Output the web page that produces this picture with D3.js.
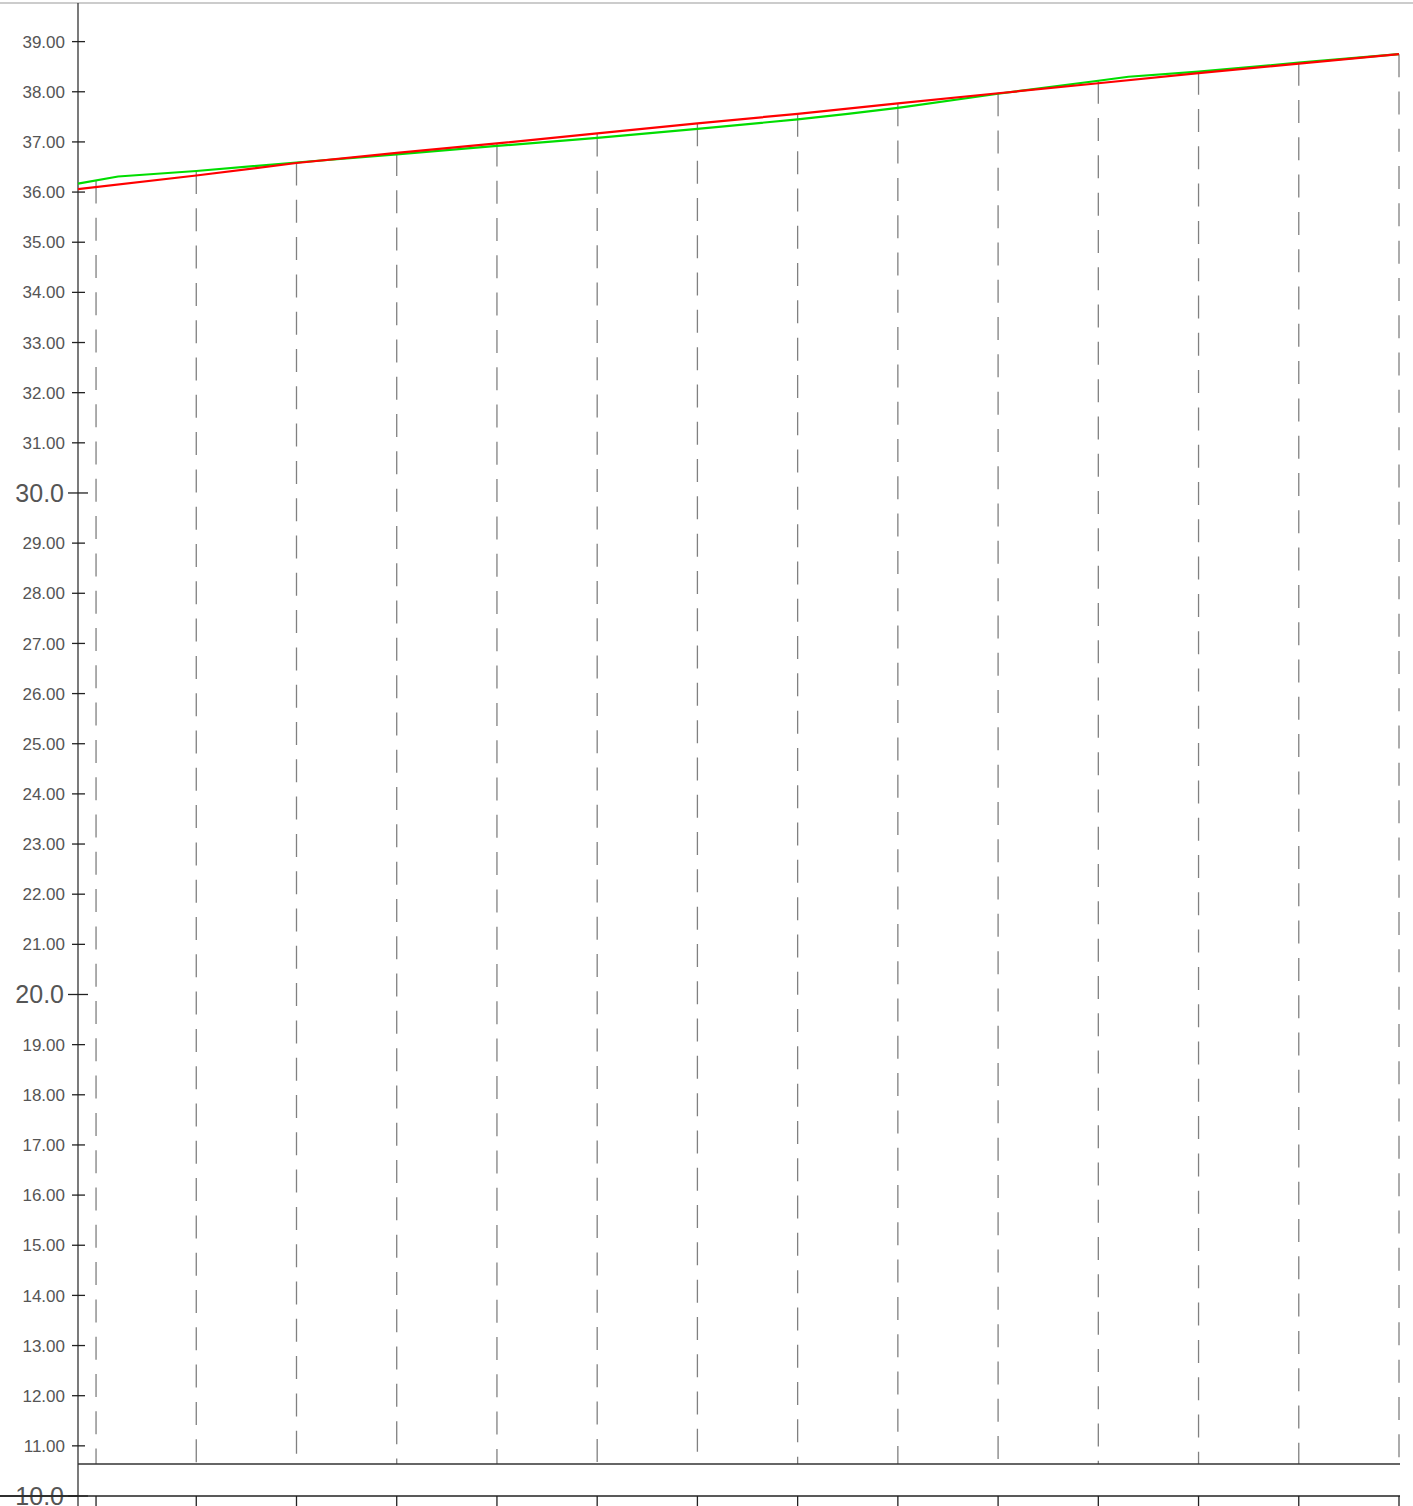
<!DOCTYPE html>
<html>
<head>
<meta charset="utf-8">
<script src="https://cdn.jsdelivr.net/npm/d3@7"></script>
<style>
	html, body { margin: 0; padding: 0; background: #fff; }
	svg { display: block; }
</style>
</head>
<body>
<div id="chart"></div>
<script>
/* values */
const dropX = [1, 2, 3, 4, 5, 6, 7, 8, 9, 10, 11, 12, 13, 14];

const greenX = [0.82, 1.22, 2, 3, 4, 5, 6, 7, 8, 8.5, 9, 10, 11, 11.3, 12, 13, 14];
const greenY = [36.17, 36.31, 36.42, 36.59, 36.75, 36.92, 37.08, 37.26, 37.45, 37.56, 37.68, 37.96, 38.22, 38.30, 38.40, 38.58, 38.75];

const redX = [0.82, 2, 3, 4, 5, 6, 7, 8, 9, 10, 11, 12, 13, 14];
const redY = [36.06, 36.33, 36.58, 36.78, 36.97, 37.17, 37.37, 37.56, 37.77, 37.97, 38.17, 38.37, 38.56, 38.75];

const majorTicks = [10, 20, 30];
const minorTicks = d3.range(11, 40).filter((v) => v % 10 !== 0);

const width = 1413;
const height = 1506;

const svg = d3.select("#chart")
	.append("svg")
	.attr("width", width)
	.attr("height", height);

/* scales */
const x = d3.scaleLinear().domain([0.82, 14]).range([78, 1399]);
const y = d3.scaleLinear().domain([10, 39.77]).range([1496, 3]);

const plotBottom = 1464;
const plotRight = 1400;

/* linear lookup on a polyline, used for the tops of the drop lines */
function valueAt(xs, ys, v) {
	const i = Math.max(1, Math.min(xs.length - 1, d3.bisectLeft(xs, v)));
	const t = (v - xs[i - 1]) / (xs[i] - xs[i - 1]);
	return ys[i - 1] + t * (ys[i] - ys[i - 1]);
}

/* top border */
svg.append("line")
	.attr("x1", 0).attr("x2", width)
	.attr("y1", 3).attr("y2", 3)
	.style("stroke", "#ccc")
	.style("stroke-width", 2);

/* dashed drop lines */
svg.append("g")
	.attr("class", "drops")
	.selectAll("line")
	.data(dropX)
	.enter()
	.append("line")
		.attr("x1", (d) => x(d))
		.attr("x2", (d) => x(d))
		.attr("y1", (d) => y(Math.max(valueAt(greenX, greenY, d), valueAt(redX, redY, d))))
		.attr("y2", plotBottom)
		.style("stroke", "#808080")
		.style("stroke-width", 1.3)
		.style("stroke-dasharray", "23,14.3");

/* plot bottom line */
svg.append("line")
	.attr("x1", x(0.82)).attr("x2", plotRight)
	.attr("y1", plotBottom).attr("y2", plotBottom)
	.style("stroke", "#333")
	.style("stroke-width", 1.3);

/* x axis at value 10 */
svg.append("line")
	.attr("x1", 0).attr("x2", plotRight)
	.attr("y1", y(10)).attr("y2", y(10))
	.style("stroke", "#222")
	.style("stroke-width", 1.3);

svg.append("g")
	.attr("class", "xticks")
	.selectAll("line")
	.data(dropX)
	.enter()
	.append("line")
		.attr("x1", (d) => x(d))
		.attr("x2", (d) => x(d))
		.attr("y1", y(10))
		.attr("y2", height)
		.style("stroke", "#222")
		.style("stroke-width", 1.3);

/* y axis */
const yAxis = svg.append("g").attr("class", "yaxis");

yAxis.append("line")
	.attr("x1", 78).attr("x2", 78)
	.attr("y1", 3).attr("y2", height)
	.style("stroke", "#333")
	.style("stroke-width", 1.3);

yAxis.selectAll(".minor")
	.data(minorTicks)
	.enter()
	.append("line")
		.attr("class", "minor")
		.attr("x1", 72).attr("x2", 85)
		.attr("y1", (d) => y(d)).attr("y2", (d) => y(d))
		.style("stroke", "#222")
		.style("stroke-width", 1.3);

yAxis.selectAll(".major")
	.data(majorTicks)
	.enter()
	.append("line")
		.attr("class", "major")
		.attr("x1", 68).attr("x2", 88)
		.attr("y1", (d) => y(d)).attr("y2", (d) => y(d))
		.style("stroke", "#222")
		.style("stroke-width", 1.3);

yAxis.selectAll(".minor-label")
	.data(minorTicks)
	.enter()
	.append("text")
		.attr("class", "minor-label")
		.attr("x", 65)
		.attr("y", (d) => y(d))
		.attr("dy", "0.36em")
		.attr("text-anchor", "end")
		.attr("font-family", "'Liberation Sans', Arial, sans-serif")
		.attr("font-size", "17px")
		.attr("fill", "#555")
		.text((d) => d3.format(".2f")(d));

yAxis.selectAll(".major-label")
	.data(majorTicks)
	.enter()
	.append("text")
		.attr("class", "major-label")
		.attr("x", 64)
		.attr("y", (d) => y(d))
		.attr("dy", "0.36em")
		.attr("text-anchor", "end")
		.attr("font-family", "'Liberation Sans', Arial, sans-serif")
		.attr("font-size", "25px")
		.attr("fill", "#555")
		.text((d) => d3.format(".1f")(d));

/* redraw the axis line at 10 over its label, as in the reference */
svg.append("line")
	.attr("x1", 0).attr("x2", 78)
	.attr("y1", y(10)).attr("y2", y(10))
	.style("stroke", "#222")
	.style("stroke-width", 1.3);

/* series */
const line = d3.line()
	.x((d) => x(d[0]))
	.y((d) => y(d[1]));

svg.append("path")
	.datum(d3.zip(greenX, greenY))
	.attr("d", line)
	.style("fill", "none")
	.style("stroke", "#00dd00")
	.style("stroke-width", 2.2);

svg.append("path")
	.datum(d3.zip(redX, redY))
	.attr("d", line)
	.style("fill", "none")
	.style("stroke", "#ff0000")
	.style("stroke-width", 2.2);
</script>
</body>
</html>
